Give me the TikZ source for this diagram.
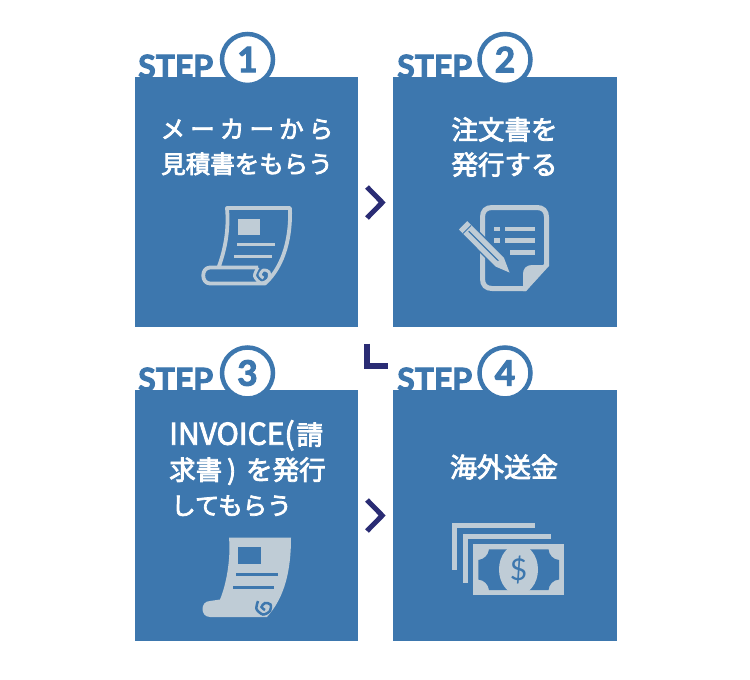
\documentclass[tikz,border=0pt]{standalone}
\usepackage{fontspec}
\setmainfont{Lato}[BoldFont={Lato Bold},BoldFeatures={FakeBold=3}]
\newfontfamily\jpfont[FakeBold=3]{Noto Sans CJK JP}
\definecolor{boxblue}{HTML}{3D77AE}
\definecolor{iconc}{HTML}{BFCCD6}
\definecolor{navy}{HTML}{2A2C74}
\begin{document}
\begin{tikzpicture}[
  x=1pt,y=-1pt,
  stepbox/.style={draw=none,fill=boxblue,minimum width=223.5pt,minimum height=250.5pt,inner sep=0pt},
  steptxt/.style={anchor=base west,inner sep=0pt,text=boxblue,font=\fontsize{32}{32}\selectfont\bfseries},
  ring/.style={circle,draw=boxblue,fill=white,line width=4.5pt,minimum size=51pt,inner sep=0pt,text=boxblue,font=\fontsize{35}{35}\selectfont\bfseries},
  label/.style={text=white,inner sep=0pt,font=\jpfont\fontsize{26.5}{35}\selectfont},
  chev/.style={draw=navy,line width=5pt,miter limit=10},
  ic/.style={draw=iconc,line width=3.8pt,line join=round},
  icf/.style={fill=iconc},
  cut/.style={fill=boxblue}
]
\useasboundingbox (0,0) rectangle (750,680);
\node[steptxt] (stp1) at (138,78) {STEP};
\node[steptxt] (stp2) at (397,78) {STEP};
\node[steptxt] (stp3) at (138,391) {STEP};
\node[steptxt] (stp4) at (397,391) {STEP};
\node[stepbox] (box1) at (246.25,202) {};
\node[stepbox] (box2) at (505,202) {};
\node[stepbox] (box3) at (246.25,515.5) {};
\node[stepbox] (box4) at (505,515.5) {};
\node[ring] (num1) at (247.5,59.5) {1};
\node[ring] (num2) at (505,59.5) {2};
\node[ring] (num3) at (247.5,373) {3};
\node[ring] (num4) at (505,373) {4};
\node[label,align=center,font=\jpfont\fontsize{24.5}{35}\selectfont] (txt1) at (247,147) {{\addfontfeature{LetterSpace=21}メーカーから}\\見積書をもらう};
\node[label,align=center] (txt2) at (504.5,147) {注文書を\\発行する};
\node[label,align=left,anchor=north west] (txt3) at (169,420) {{\fontsize{30}{35}\selectfont INVOICE(}\hspace{2pt}請\\求書\hspace{5pt})\hspace{10pt}を発行\\{\fontsize{24.5}{35}\selectfont\hspace{2pt}してもらう}};
\node[label,font=\jpfont\fontsize{27}{35}\selectfont] (txt4) at (504,467) {海外送金};
% chevrons
\draw[chev] (367,187)--(382.2,202.5)--(367,218);
\draw[chev,line width=6pt] (366.5,343.5)--(366.5,366)--(388.3,366);
\draw[chev] (367,500)--(382.2,515.5)--(367,531);
% scroll, outlined
\draw[ic] (210,267.5)--(218.5,267.5) .. controls (225,250) and (229,230) .. (227,208)--(290,208) .. controls (291,235) and (285,265) .. (265,283.5)--(210,283.5) .. controls (201,283.5) and (201,267.5) .. (210,267.5)--(258,267.5);
\draw[ic,line width=3pt] plot[smooth] coordinates {(258,267.5) (254.5,276) (261,283) (268.5,279.5) (269,272) (263.5,270) (260,275) (263.5,278)};
\fill[icf] (238,219)rectangle(260,235);
\fill[icf] (236.5,242.5)rectangle(275,245.5);
\fill[icf] (233.5,255)rectangle(272,258);
% scroll, filled
\path[icf] (229,537.5)--(291,537.5) .. controls (291,570) and (285,597) .. (267,617)--(210,617) .. controls (200,617) and (200,601) .. (210,601)--(220,599.5) .. controls (226,585) and (231,560) .. (229,537.5)--cycle;
\draw[draw=boxblue,line width=2.5pt] plot[smooth] coordinates {(258,601) (256.5,609) (263,614.5) (270,611) (270.5,604.5) (265,603) (261.5,607) (265,610)};
\fill[cut] (237.7,547)rectangle(261,564);
\fill[cut] (235.7,572.8)rectangle(277.7,575.8);
\fill[cut] (232.7,585.8)rectangle(274,588.8);
% note sheet and pencil
\draw[ic,line width=5pt,line join=miter] (525,288.5)--(492,288.5) .. controls (486,288.5) and (482.5,285) .. (482.5,279)--(482.5,217) .. controls (482.5,211) and (486,207.5) .. (492,207.5)--(537,207.5) .. controls (543,207.5) and (546.5,211) .. (546.5,217)--(546.5,265)--cycle;
\path[icf] (549,265)--(532,265) .. controls (526,265) and (523,269) .. (523,274)--(523,291)--(526,291)--cycle;
\fill[icf] (494.3,226.5)rectangle(500,231);
\fill[icf] (505,226.5)rectangle(535,231);
\fill[icf] (494.3,238)rectangle(500,242.7);
\fill[icf] (505,238)rectangle(535,242.7);
\fill[icf] (510,250)rectangle(535,255);
\path[icf,draw=boxblue,line width=3pt] (467.2,221.2)--(504,258)--(509.5,272.5)--(495.5,266.5)--(459,229.5)--cycle;
\path[icf] (467.2,221.2)--(504,258)--(509.5,272.5)--(495.5,266.5)--(459,229.5)--cycle;
\draw[boxblue,line width=1.2pt] (468.7,231.2)--(498.4,260.8);
\draw[boxblue,line width=1pt] (463,233.5)--(471,225.5);
% banknotes
\fill[icf] (452,523.3)rectangle(535.3,528.3);
\fill[icf] (452,523.3)rectangle(457,570);
\fill[icf] (462.7,534)rectangle(550.7,539);
\fill[icf] (462.7,534)rectangle(467.7,583.3);
\fill[icf] (473,544.3)rectangle(564,595);
\fill[cut] (489,549.3)--(548.5,549.3) .. controls (549,555) and (553,559.5) .. (559,560)--(559,579.5) .. controls (553,580) and (549,584.5) .. (548.5,590)--(489,590) .. controls (488.5,584.5) and (484,580) .. (478.3,579.5)--(478.3,560) .. controls (484,559.5) and (488.5,555) .. (489,549.3)--cycle;
\fill[icf] (518.5,569.5) ellipse[x radius=19.5pt,y radius=25pt];
\node[text=boxblue,inner sep=0pt,font=\fontsize{30}{30}\selectfont] (usd) at (518.5,569.5) {\$};
\end{tikzpicture}
\end{document}
